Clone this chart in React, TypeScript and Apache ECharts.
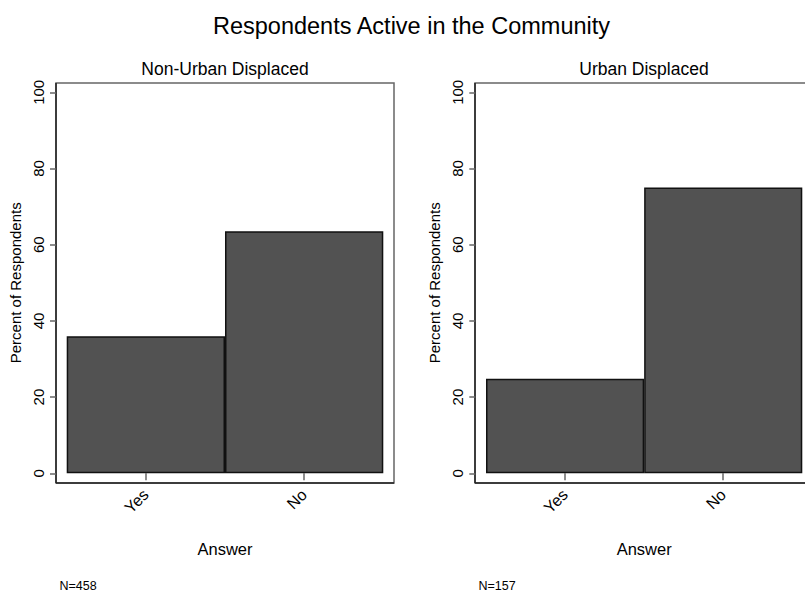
import React, { useEffect, useRef } from "react";
import * as echarts from "echarts";

const categories = ["Yes", "No"];
const nonUrbanValues = [36.0, 63.5];
const urbanValues = [24.8, 75.0];
const panelTitles = ["Non-Urban Displaced", "Urban Displaced"];
const sampleSizes = ["N=458", "N=157"];
const mainTitle = "Respondents Active in the Community";

const FONT = "Liberation Sans";

export default function App() {
  const ref = useRef<HTMLDivElement>(null);
  useEffect(() => {
    if (!ref.current) return;
    const chart = echarts.init(ref.current, undefined, { renderer: "svg" });
    const panels = [
      { gl: 66.7, gr: 383.3, box: [56, 83, 338, 400] },
      { gl: 486, gr: 802.3, box: [475, 83, 338, 400] },
    ];
    const gridTop = 92.3;
    const gridBottomY = 473.3;
    const grids = panels.map((p) => ({
      left: p.gl,
      width: p.gr - p.gl,
      top: gridTop,
      height: gridBottomY - gridTop,
    }));
    const xAxes = panels.map((_, i) => ({
      type: "category",
      gridIndex: i,
      data: categories,
      offset: 9.7,
      axisLine: { show: false },
      axisTick: { show: true, alignWithLabel: true, length: 7, lineStyle: { color: "#666", width: 1.5 } },
      axisLabel: {
        rotate: 45,
        margin: 9,
        fontFamily: FONT,
        fontSize: 16,
        color: "#000",
      },
      name: "Answer",
      nameLocation: "middle",
      nameGap: 57,
      nameTextStyle: { fontFamily: FONT, fontSize: 16.5, color: "#000" },
    }));
    const yAxes = panels.map((_, i) => ({
      type: "value",
      gridIndex: i,
      min: 0,
      max: 100,
      interval: 20,
      offset: 10.7,
      splitLine: { show: false },
      axisLine: { show: false },
      axisTick: { show: true, length: 6, lineStyle: { color: "#666", width: 1.5 } },
      axisLabel: {
        rotate: 90,
        margin: 10,
        fontFamily: FONT,
        fontSize: 15,
        color: "#000",
      },
      name: "Percent of Respondents",
      nameLocation: "middle",
      nameGap: 33,
      nameTextStyle: { fontFamily: FONT, fontSize: 15, color: "#000" },
    }));
    const series = [nonUrbanValues, urbanValues].map((vals, i) => ({
      type: "bar",
      xAxisIndex: i,
      yAxisIndex: i,
      data: vals,
      barWidth: "100%",
      barGap: "0%",
      itemStyle: { color: "#525252", borderColor: "#111", borderWidth: 1.5 },
    }));
    const graphics: any[] = [];
    panels.forEach((p, i) => {
      const [bx, by, bw, bh] = p.box;
      graphics.push({
        type: "rect",
        shape: { x: bx, y: by, width: bw, height: bh },
        style: { fill: "none", stroke: "#666", lineWidth: 1.5 },
        z: 0,
      });
      graphics.push({
        type: "line",
        shape: { x1: bx, y1: by, x2: bx, y2: by + bh },
        style: { stroke: "#222", lineWidth: 1.5 },
      });
      graphics.push({
        type: "line",
        shape: { x1: bx, y1: by + bh, x2: bx + bw, y2: by + bh },
        style: { stroke: "#222", lineWidth: 1.5 },
      });
      graphics.push({
        type: "text",
        x: bx + bw / 2,
        y: 69,
        style: {
          text: panelTitles[i],
          fontFamily: FONT,
          fontSize: 17.5,
          fill: "#000",
          align: "center",
          verticalAlign: "middle",
        },
      });
      graphics.push({
        type: "text",
        x: bx + 3.5,
        y: 586,
        style: {
          text: sampleSizes[i],
          fontFamily: FONT,
          fontSize: 12.5,
          fill: "#000",
          align: "left",
          verticalAlign: "middle",
        },
      });
    });
    graphics.push({
      type: "text",
      x: 411.5,
      y: 26,
      style: {
        text: mainTitle,
        fontFamily: FONT,
        fontSize: 23.5,
        fill: "#000",
        align: "center",
        verticalAlign: "middle",
      },
    });
    chart.setOption({
      animation: false,
      backgroundColor: "#fff",
      grid: grids,
      xAxis: xAxes,
      yAxis: yAxes,
      series,
      graphic: graphics,
    });
    return () => chart.dispose();
  }, []);
  return <div ref={ref} style={{ width: 805, height: 592, position: "absolute", left: 0, top: 0 }} />;
}
